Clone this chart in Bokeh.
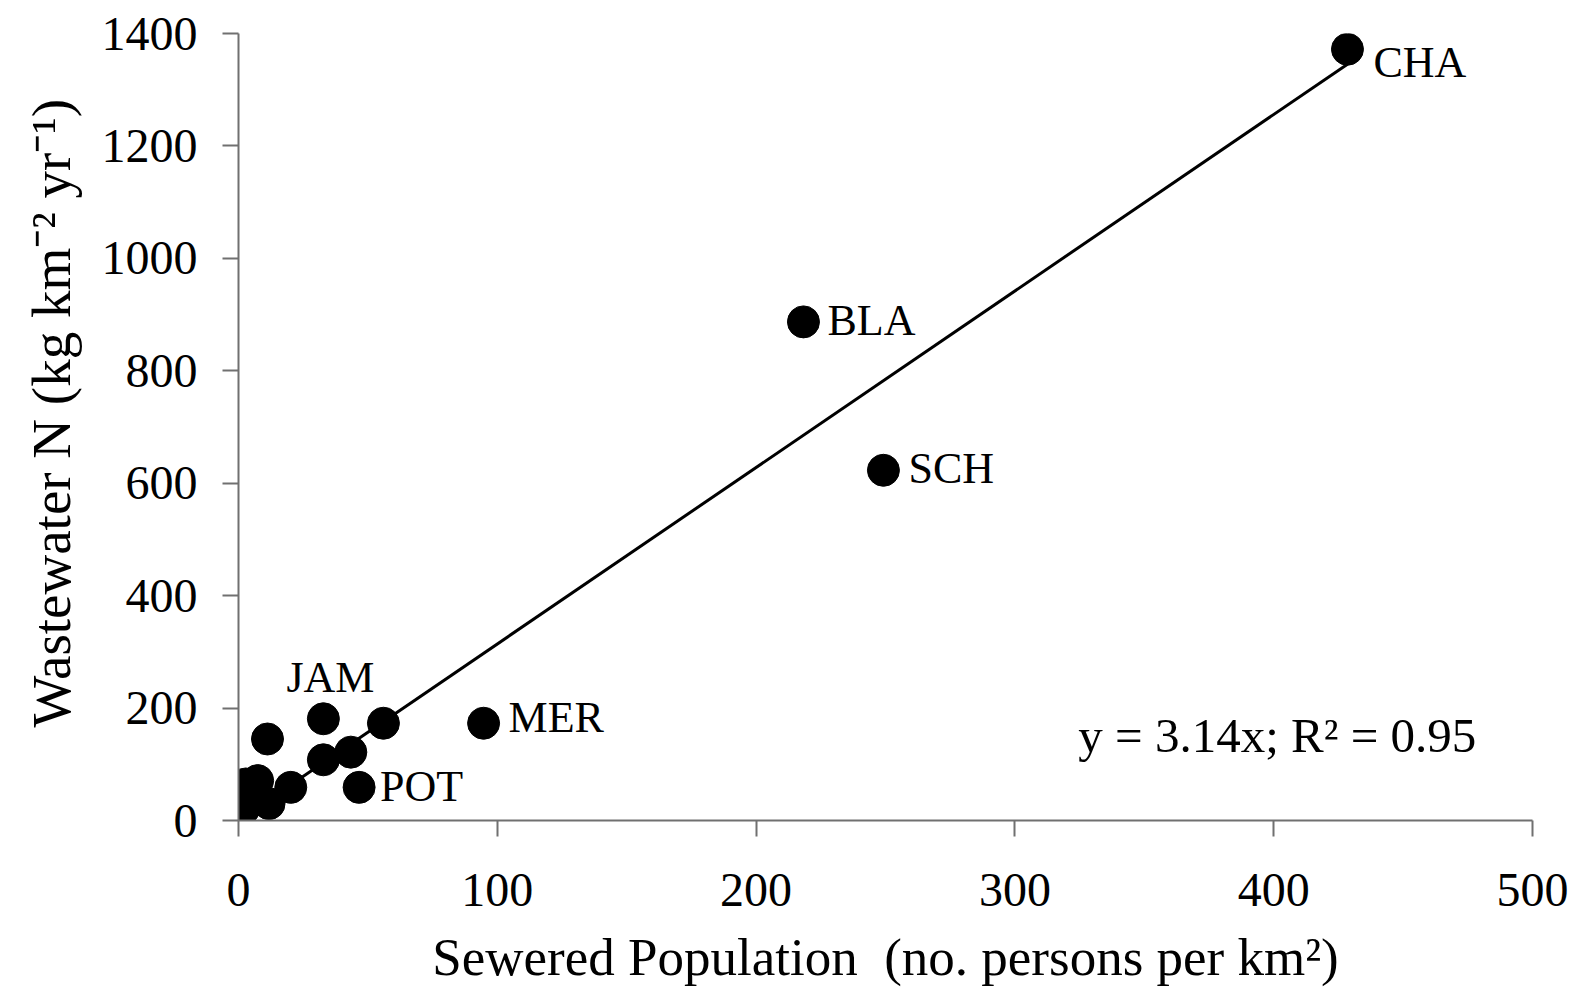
from bokeh.plotting import figure
from bokeh.models import Range1d, FixedTicker, ColumnDataSource, Label
from bokeh.core.properties import value
from bokeh.embed import file_html
from bokeh.resources import INLINE

# ---- data ----
pop = [428.5, 218.3, 249.2, 94.7, 32.8, 46.6, 56.0, 11.2, 43.4, 32.8, 20.2, 7.4, 2.8, 11.8, 2.1, 4.8]
wwn = [1372, 887, 623, 173, 181, 59, 173, 145, 121.6, 108, 59, 71, 65, 30, 21, 45]
site = ["CHA", "BLA", "SCH", "MER", "JAM", "POT", "", "", "", "", "", "", "", "", "", ""]
slope = 3.14
r2 = 0.95
x_ticks = [0, 100, 200, 300, 400, 500]
y_ticks = [0, 200, 400, 600, 800, 1000, 1200, 1400]

FONT = "Liberation Serif"

p = figure(width=1582, height=990, output_backend="svg", toolbar_location=None,
           x_range=Range1d(0, 500), y_range=Range1d(0, 1400),
           min_border_left=238, min_border_right=50, min_border_top=33, min_border_bottom=170)
p.outline_line_color = None
p.grid.grid_line_color = None
p.background_fill_color = "white"
p.border_fill_color = "white"

for ax in (p.xaxis[0], p.yaxis[0]):
    ax.axis_line_color = "#707070"
    ax.axis_line_width = 2
    ax.major_tick_line_color = "#707070"
    ax.major_tick_line_width = 2
    ax.major_tick_in = 0
    ax.major_tick_out = 16
    ax.minor_tick_line_color = None
    ax.major_label_text_font = FONT
    ax.major_label_text_font_size = "48px"
    ax.major_label_text_color = "black"
    ax.axis_label_text_font = FONT
    ax.axis_label_text_font_style = "normal"
    ax.axis_label_text_color = "black"

p.xaxis.ticker = FixedTicker(ticks=x_ticks)
p.yaxis.ticker = FixedTicker(ticks=y_ticks)
p.xaxis.major_label_standoff = 37
p.yaxis.major_label_standoff = 25
p.xaxis.axis_label = "Sewered Population\u00a0 (no. persons per km\u00b2)"
p.yaxis.axis_label = "\u00a0\u00a0Wastewater N (kg km\u207b\u00b2 yr\u207b\u00b9)"
p.xaxis.axis_label_text_font_size = "53px"
p.yaxis.axis_label_text_font_size = "55px"
p.xaxis.axis_label_standoff = 19
p.yaxis.axis_label_standoff = 17

# regression line through origin
lx = [min(pop), max(pop)]
ly = [slope * v for v in lx]
p.line(lx, ly, line_color="black", line_width=3)

p.scatter(pop, wwn, size=32, marker="circle", fill_color="black", line_color="black")

# site labels (offsets in screen pixels relative to their points)
label_dx = {"CHA": 26, "BLA": 24, "SCH": 25, "MER": 25, "JAM": 7, "POT": 21}
label_dy = {"CHA": 13, "BLA": -1, "SCH": -2, "MER": -6, "JAM": -41, "POT": -1}
label_align = {"CHA": "left", "BLA": "left", "SCH": "left", "MER": "left", "JAM": "center", "POT": "left"}
lab = [(x, y, s) for x, y, s in zip(pop, wwn, site) if s]
src = ColumnDataSource(dict(
    x=[t[0] for t in lab], y=[t[1] for t in lab], text=[t[2] for t in lab],
    dx=[label_dx[t[2]] for t in lab], dy=[label_dy[t[2]] for t in lab],
    align=[label_align[t[2]] for t in lab]))
p.text(x="x", y="y", text="text", x_offset="dx", y_offset="dy", text_align="align",
       text_baseline="middle", text_font=value(FONT), text_font_size="44px",
       text_color="black", source=src)

eq = Label(x=324.5, y=152, text=f"y = {slope}x; R\u00b2 = {r2}", text_font=FONT,
           text_font_size="49px", text_color="black", text_baseline="middle")
p.add_layout(eq)

open("out.html", "w").write(file_html(p, INLINE))
